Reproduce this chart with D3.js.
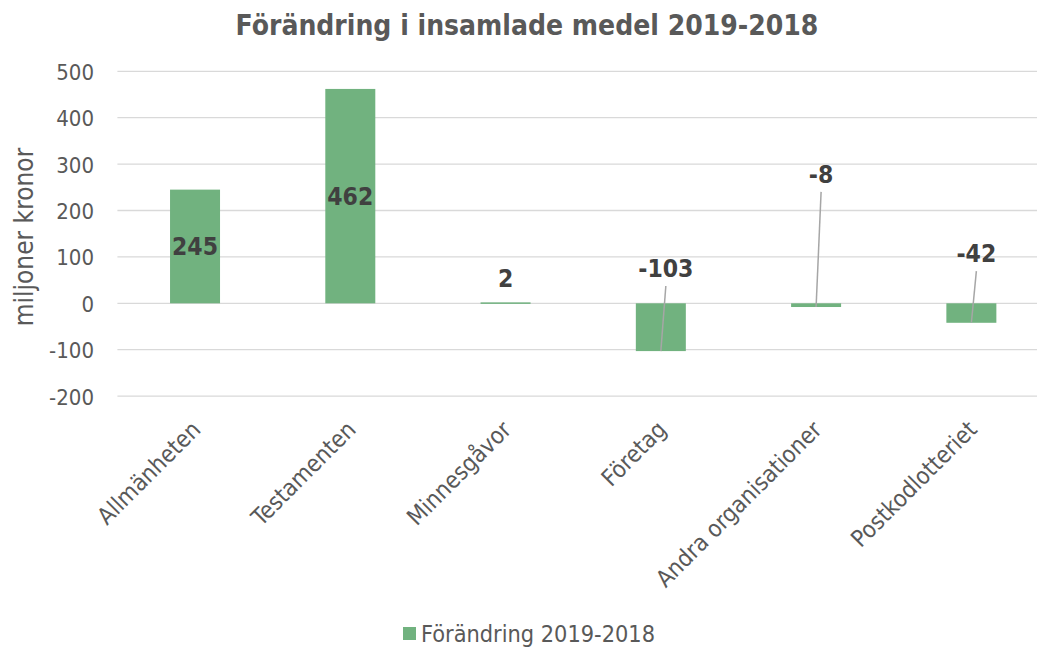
<!DOCTYPE html>
<html><head><meta charset="utf-8">
<script src="https://cdn.jsdelivr.net/npm/d3@7"></script>
<style>body{margin:0;background:#fff}svg{display:block}</style>
</head><body>
<svg id="c" width="1037" height="648"></svg>
<script>
const categories = ["Allmänheten","Testamenten","Minnesgåvor","Företag","Andra organisationer","Postkodlotteriet"];
const values = [245, 462, 2, -103, -8, -42];
const yTicks = [-200, -100, 0, 100, 200, 300, 400, 500];
const seriesName = "Förändring 2019-2018";
const title = "Förändring i insamlade medel 2019-2018";
const yTitle = "miljoner kronor";
// data-label anchor values (in chart units) as placed in the original; null = centred in bar
const labelAt = [null, null, 54, 76, 279, 108];
const leader = [false, false, false, true, true, true];

const W = 1037, H = 648;
const font = "'DejaVu Sans Condensed','DejaVu Sans',sans-serif";
const svg = d3.select("#c").style("font-family", font);

const x = d3.scaleBand().domain(categories).range([117.4, 1049]).padding(0);
const y = d3.scaleLinear().domain([-200, 500]).range([396.1, 71.3]);
const barW = x.bandwidth() * 0.322;

// gridlines
svg.append("g").selectAll("line").data(yTicks).join("line")
  .attr("x1", x.range()[0]).attr("x2", x.range()[1])
  .attr("y1", d => y(d)).attr("y2", d => y(d))
  .attr("stroke", "#d9d9d9").attr("stroke-width", 1.3);

// y axis labels
const yAxis = d3.axisLeft(y).tickValues(yTicks).tickSize(0).tickPadding(0).tickFormat(d => String(d));
const ya = svg.append("g").attr("transform", "translate(94,0)").call(yAxis);
ya.select(".domain").remove();
ya.selectAll("text").attr("font-family", font).attr("font-size", 22).attr("fill", "#595959").attr("dy", "0.36em");

// bars
const cx = d => x(d) + x.bandwidth() / 2;
svg.append("g").selectAll("rect").data(values).join("rect")
  .attr("x", (d, i) => cx(categories[i]) - barW / 2)
  .attr("width", barW)
  .attr("y", d => y(Math.max(0, d)))
  .attr("height", d => Math.max(1.5, Math.abs(y(d) - y(0))))
  .attr("fill", "#71b27f");

// leader lines
values.forEach((v, i) => {
  if (!leader[i]) return;
  const lx = cx(categories[i]) + 5;
  svg.append("line")
    .attr("x1", lx).attr("y1", y(labelAt[i]) + 18)
    .attr("x2", cx(categories[i])).attr("y2", y(v))
    .attr("stroke", "#a6a6a6").attr("stroke-width", 1.5);
});

// data labels
svg.append("g").selectAll("text").data(values).join("text")
  .attr("x", (d, i) => cx(categories[i]) + (leader[i] ? 5 : 0))
  .attr("y", (d, i) => labelAt[i] === null ? y(d / 2) : y(labelAt[i]))
  .attr("dy", "0.36em")
  .attr("text-anchor", "middle")
  .attr("font-size", 24.5).attr("font-weight", "bold").attr("fill", "#404040")
  .text(d => d);

// category labels
svg.append("g").selectAll("text").data(categories).join("text")
  .attr("transform", d => `translate(${cx(d) + 1},${425}) rotate(-45)`)
  .attr("text-anchor", "end")
  .attr("dy", "0.36em")
  .attr("font-size", 23.5).attr("fill", "#595959")
  .text(d => d);

// y title
svg.append("text")
  .attr("transform", "translate(33,237) rotate(-90)")
  .attr("text-anchor", "middle")
  .attr("font-size", 26).attr("fill", "#595959")
  .text(yTitle);

// title
svg.append("text")
  .attr("x", 527).attr("y", 35)
  .attr("text-anchor", "middle")
  .attr("font-size", 28).attr("font-weight", "bold").attr("fill", "#595959")
  .text(title);

// legend
svg.append("rect").attr("x", 403).attr("y", 627).attr("width", 13).attr("height", 13).attr("fill", "#71b27f");
svg.append("text").attr("x", 421).attr("y", 642)
  .attr("font-size", 23.3).attr("fill", "#595959").text(seriesName);
</script>
</body></html>
